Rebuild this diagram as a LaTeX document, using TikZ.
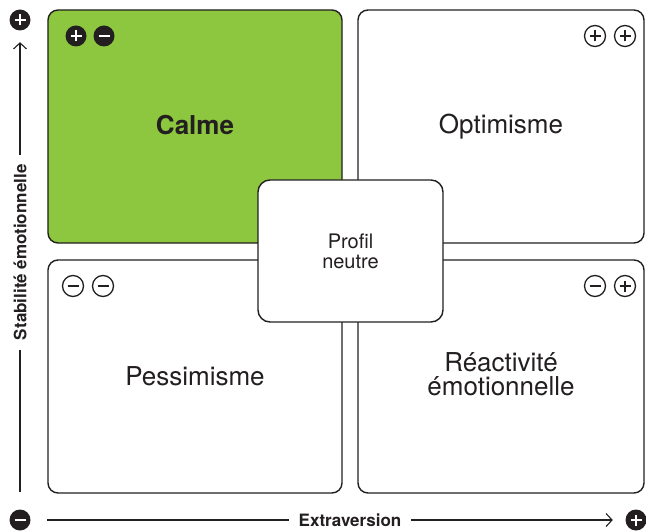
\documentclass[tikz,border=0pt]{standalone}
\usepackage{fontspec}
\setmainfont{TeX Gyre Heros}
\usetikzlibrary{arrows.meta}
\definecolor{calmegreen}{RGB}{141,198,63}
\definecolor{ink}{RGB}{35,31,32}
\tikzset{
  minusbar/.style={path picture={\draw[#1] ([xshift=-5.5bp]path picture bounding box.center) -- ([xshift=5.5bp]path picture bounding box.center);}},
  plusbar/.style={path picture={\draw[#1] ([xshift=-5.5bp]path picture bounding box.center) -- ([xshift=5.5bp]path picture bounding box.center)
      ([yshift=-5.5bp]path picture bounding box.center) -- ([yshift=5.5bp]path picture bounding box.center);}},
}

\begin{document}
\begin{tikzpicture}[x=1bp, y=-1bp, every node/.style={text=ink}]
  \tikzstyle{quad}=[draw=ink, line width=1.4bp, rounded corners=10bp, fill=white, align=center]
  \tikzstyle{big}=[font=\fontsize{26bp}{24bp}\selectfont]
  \tikzstyle{axis}=[draw=ink, line width=1.1bp, -{Straight Barb[length=6bp,width=13bp]}]
  \tikzstyle{axlabel}=[fill=white, inner xsep=10bp, font=\fontsize{17bp}{19bp}\selectfont\bfseries]
  \tikzstyle{sgn}=[circle, minimum size=21bp, inner sep=0pt]
  \tikzstyle{dminus}=[sgn, fill=ink, minusbar={white, line width=2.8bp}]
  \tikzstyle{dplus}=[sgn, fill=ink, plusbar={white, line width=2.8bp}]
  \tikzstyle{ominus}=[sgn, draw=ink, line width=1.3bp, minusbar={ink, line width=1.3bp}]
  \tikzstyle{oplus}=[sgn, draw=ink, line width=1.3bp, plusbar={ink, line width=1.3bp}]
  \useasboundingbox (0,0) rectangle (646,531);
  % quadrants
  \node[quad, big, fill=calmegreen, minimum width=294bp, minimum height=233bp] (calme) at (195,126.5) {\raisebox{4bp}{\bfseries Calme}};
  \node[quad, big, minimum width=286bp, minimum height=233bp] (optimisme) at (501,126.5) {Optimisme};
  \node[quad, big, minimum width=294bp, minimum height=233bp] (pessimisme) at (195,376.5) {Pessimisme};
  \node[quad, big, minimum width=286bp, minimum height=233bp] (reactivite) at (501,376.5) {\raisebox{4bp}{Réactivité}\\\raisebox{4bp}{émotionnelle}};
  \node[quad, font=\fontsize{20bp}{20bp}\selectfont, rounded corners=12bp, minimum width=185bp, minimum height=142bp] (neutre) at (350.5,251) {Profil\\neutre};
  % signs
  \node[dplus] (calmeA) at (76,36) {}; \node[dminus] (calmeB) at (104,36) {};
  \node[oplus] (optiA) at (595,36) {}; \node[oplus] (optiB) at (625,36) {};
  \node[ominus] (pessiA) at (73,286) {}; \node[ominus] (pessiB) at (103,286) {};
  \node[ominus] (reactA) at (595,286) {}; \node[oplus] (reactB) at (625,286) {};
  % axes
  \node[dminus] (origin) at (20,520) {};
  \node[dplus] (yplus) at (20,20) {};
  \node[dplus] (xplus) at (636,520) {};
  \draw[axis, shorten <=17.5bp, shorten >=11.5bp] (origin) -- node[axlabel, rotate=90, pos=0.537] {Stabilité émotionnelle} (yplus);
  \draw[axis, shorten <=16.5bp, shorten >=12.5bp] (origin) -- node[axlabel, pos=0.537] {Extraversion} (xplus);
\end{tikzpicture}
\end{document}
